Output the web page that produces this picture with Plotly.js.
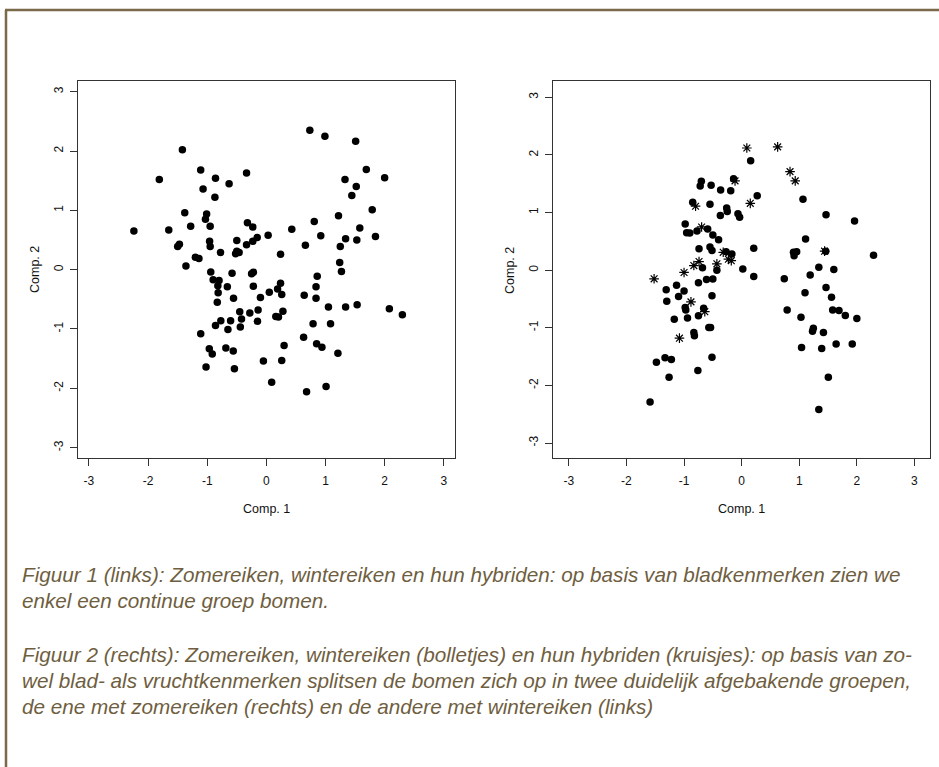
<!DOCTYPE html>
<html>
<head>
<meta charset="utf-8">
<script src="https://cdn.plot.ly/plotly-3.0.1.min.js"></script>
<style>
html,body{margin:0;padding:0;background:#fff;}
#chart{width:939px;height:767px;}
</style>
</head>
<body>
<div id="chart"></div>
<script>
// Figuur 1: bladkenmerken (alle bomen)
var leftX = [0.735,0.99,1.51,-1.42,1.69,2.0,-1.81,-1.11,-0.335,-0.86,
-0.63,-1.07,1.33,1.52,1.445,-0.87,1.79,-1.38,-1.01,-1.03,
1.22,-2.24,-1.65,-1.28,-0.95,-0.32,-0.23,0.81,0.43,1.58,
0.03,-0.155,-0.23,0.92,1.845,1.34,1.53,-0.50,-0.96,-0.335,
-1.47,-1.50,-0.95,0.66,1.25,-0.50,-0.52,-0.46,-0.775,0.24,
-1.20,-1.14,1.24,-1.36,-0.94,-0.58,-0.22,-0.25,1.27,0.86,
-0.90,-0.80,-0.82,-0.66,-0.22,0.24,0.19,0.84,-0.815,0.05,
0.26,-0.10,-0.555,0.64,0.84,-0.83,2.08,1.05,1.34,1.535,
2.30,-0.45,-0.28,-0.14,0.28,0.16,0.205,-0.42,-0.77,-0.605,
-0.15,-0.86,-0.44,0.79,1.085,-0.65,-1.11,0.63,0.30,0.85,
0.94,-0.965,-0.685,-0.56,-0.915,1.21,-0.05,0.26,-1.02,-0.54,
0.09,0.68,1.01];
var leftY = [2.35,2.25,2.165,2.02,1.69,1.55,1.52,1.68,1.63,1.54,
1.45,1.36,1.52,1.40,1.25,1.22,1.01,0.96,0.94,0.85,
0.91,0.65,0.67,0.73,0.73,0.79,0.72,0.81,0.68,0.70,
0.58,0.54,0.48,0.57,0.56,0.52,0.50,0.49,0.48,0.42,
0.43,0.39,0.39,0.41,0.39,0.31,0.27,0.29,0.29,0.26,
0.21,0.19,0.12,0.06,-0.04,-0.06,-0.045,-0.07,-0.03,-0.11,
-0.17,-0.185,-0.27,-0.29,-0.28,-0.23,-0.325,-0.29,-0.39,-0.38,
-0.42,-0.47,-0.48,-0.43,-0.48,-0.55,-0.66,-0.63,-0.63,-0.59,
-0.76,-0.71,-0.73,-0.68,-0.70,-0.79,-0.80,-0.83,-0.86,-0.86,
-0.87,-0.94,-0.965,-0.91,-0.91,-1.01,-1.08,-1.14,-1.28,-1.25,
-1.31,-1.335,-1.32,-1.37,-1.42,-1.41,-1.54,-1.53,-1.64,-1.67,
-1.90,-2.06,-1.97];

// Figuur 2: blad- en vruchtkenmerken, bolletjes (zomer- en wintereiken)
var rightDotX = [0.156,-0.70,-0.72,-0.53,-0.14,-0.365,-0.19,0.27,1.065,-0.85,
-0.55,-0.26,-0.25,-0.37,-0.064,-0.035,1.465,1.96,-0.98,-0.955,
-0.90,-0.775,-0.59,-0.50,-0.40,1.11,-0.74,-0.55,-0.515,-0.27,
-0.17,0.21,0.90,0.955,0.91,1.46,2.29,-0.68,0.02,-0.43,
1.34,1.60,1.19,-0.61,-0.50,0.21,0.74,-0.75,-1.31,-1.13,
-1.0,-1.095,-0.515,1.10,1.465,1.56,-1.30,-0.98,-0.97,-0.66,
0.79,1.58,1.69,1.80,2.0,-1.17,-0.94,-0.75,1.03,-0.57,
-0.54,1.245,1.23,1.42,-0.83,-0.82,1.04,1.39,1.64,1.92,
-1.33,-1.22,-1.48,-0.515,-1.26,-0.76,1.505,-1.59,1.34];
var rightDotY = [1.90,1.545,1.46,1.475,1.585,1.39,1.38,1.29,1.23,1.18,
1.145,1.08,1.02,0.95,0.98,0.92,0.96,0.855,0.80,0.65,
0.645,0.68,0.715,0.61,0.53,0.54,0.37,0.40,0.34,0.32,
0.28,0.38,0.31,0.32,0.25,0.33,0.26,0.04,0.02,0.0,
0.05,0.01,-0.085,-0.16,-0.155,-0.11,-0.15,-0.22,-0.34,-0.26,
-0.36,-0.455,-0.445,-0.39,-0.30,-0.47,-0.54,-0.65,-0.69,-0.66,
-0.69,-0.69,-0.70,-0.785,-0.84,-0.85,-0.83,-0.79,-0.815,-0.995,
-0.995,-1.01,-1.06,-1.08,-1.08,-1.14,-1.34,-1.36,-1.28,-1.28,
-1.52,-1.55,-1.60,-1.51,-1.86,-1.74,-1.86,-2.29,-2.42];

// Figuur 2: kruisjes (hybriden)
var rightStarX = [0.09,0.625,0.84,0.93,-0.115,0.15,-0.80,-0.695,-0.32,-0.23,
-0.18,-0.74,-0.83,-0.43,-1.0,-1.52,-0.88,-0.64,-1.08,1.44];
var rightStarY = [2.12,2.14,1.71,1.55,1.55,1.16,1.11,0.75,0.31,0.19,
0.165,0.15,0.08,0.11,-0.04,-0.15,-0.55,-0.72,-1.18,0.33];

var tickVals = [-3,-2,-1,0,1,2,3];
var tickText = ['-3','-2','-1','0','1','2','3'];
var xTitle = 'Comp. 1';
var yTitle = 'Comp. 2';
var captionLines = [
  'Figuur 1 (links): Zomereiken, wintereiken en hun hybriden: op basis van bladkenmerken zien we',
  'enkel een continue groep bomen.',
  'Figuur 2 (rechts): Zomereiken, wintereiken (bolletjes) en hun hybriden (kruisjes): op basis van zo-',
  'wel blad- als vruchtkenmerken splitsen de bomen zich op in twee duidelijk afgebakende groepen,',
  'de ene met zomereiken (rechts) en de andere met wintereiken (links)'
];
var captionBaselines = [582, 608, 662, 688, 714];

var W = 939, H = 767;
function px(x){ return x / W; }
function py(y){ return 1 - y / H; }

var axisFont = {family: 'Liberation Sans, Arial, sans-serif', size: 12, color: '#111'};
var titleFont = {family: 'Liberation Sans, Arial, sans-serif', size: 12.5, color: '#111'};
var capColor = '#6f5e40';

function xa(domain, range, anchor){
  return {
    domain: domain, range: range, autorange: false, anchor: anchor,
    tickvals: tickVals, ticktext: tickText,
    ticks: 'outside', ticklen: 7, tickwidth: 1, tickcolor: '#333',
    ticklabelstandoff: 4,
    showline: true, mirror: true, linecolor: '#333', linewidth: 1,
    showgrid: false, zeroline: false,
    tickfont: axisFont, fixedrange: true
  };
}
function ya(domain, range, anchor){
  var a = xa(domain, range, anchor);
  a.tickangle = -90;
  a.ticklabelstandoff = 3;
  return a;
}

var dotMarker = {symbol: 'circle', size: 7.5, color: '#000', line: {width: 0}};

var traces = [
  {x: leftX, y: leftY, type: 'scatter', mode: 'markers', xaxis: 'x', yaxis: 'y',
   marker: dotMarker, name: 'bomen', hoverinfo: 'x+y'},
  {x: rightDotX, y: rightDotY, type: 'scatter', mode: 'markers', xaxis: 'x2', yaxis: 'y2',
   marker: dotMarker, name: 'bolletjes', hoverinfo: 'x+y'},
  {x: rightStarX, y: rightStarY, type: 'scatter', mode: 'markers', xaxis: 'x2', yaxis: 'y2',
   marker: {symbol: 'asterisk-open', size: 8, color: '#000', line: {width: 1.2, color: '#000'}},
   name: 'kruisjes', hoverinfo: 'x+y'}
];

var yDom = [py(458.3), py(81)];
var layout = {
  width: W, height: H,
  margin: {l: 0, r: 0, t: 0, b: 0, pad: 0},
  paper_bgcolor: '#fff', plot_bgcolor: '#fff',
  showlegend: false,
  font: axisFont,
  xaxis: xa([px(78.3), px(455)], [-3.18, 3.19], 'y'),
  yaxis: ya(yDom, [-3.18, 3.18], 'x'),
  xaxis2: xa([px(553.3), px(930)], [-3.27, 3.27], 'y2'),
  yaxis2: ya(yDom, [-3.265, 3.283], 'x2'),
  shapes: [
    {type: 'line', xref: 'paper', yref: 'paper', x0: px(5), x1: 1, y0: py(10), y1: py(10),
     line: {color: '#7a6a4a', width: 2.5}},
    {type: 'line', xref: 'paper', yref: 'paper', x0: px(6), x1: px(6), y0: py(10), y1: 0,
     line: {color: '#7a6a4a', width: 2.5}}
  ],
  annotations: []
};

// axis titles
[[266.5, 509, xTitle, 0], [741.6, 509, xTitle, 0], [35, 270, yTitle, -90], [510, 270, yTitle, -90]].forEach(function(t){
  layout.annotations.push({
    xref: 'paper', yref: 'paper', x: px(t[0]), y: py(t[1]),
    xanchor: 'center', yanchor: 'middle', showarrow: false,
    text: t[2], textangle: t[3], font: titleFont
  });
});

// caption
captionLines.forEach(function(line, i){
  layout.annotations.push({
    xref: 'paper', yref: 'paper', x: px(20), y: py(captionBaselines[i] + 6),
    xanchor: 'left', yanchor: 'bottom', showarrow: false, align: 'left',
    text: '<i>' + line + '</i>',
    font: {family: 'Liberation Sans, Arial, sans-serif', size: 20.7, color: capColor}
  });
});

Plotly.newPlot('chart', traces, layout, {displayModeBar: false, staticPlot: true});
</script>
</body>
</html>
